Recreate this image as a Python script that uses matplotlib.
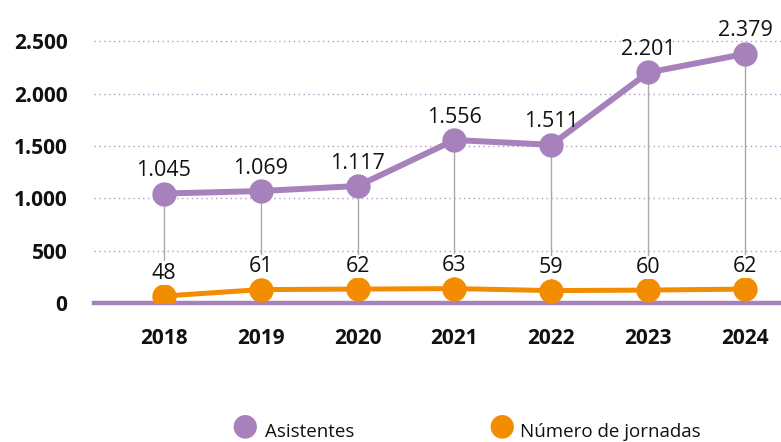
import matplotlib
matplotlib.use("Agg")
import matplotlib.pyplot as plt

years = ["2018", "2019", "2020", "2021", "2022", "2023", "2024"]
asistentes = [1045, 1069, 1117, 1556, 1511, 2201, 2379]
jornadas = [48, 61, 62, 63, 59, 60, 62]
asis_labels = ["1.045", "1.069", "1.117", "1.556", "1.511", "2.201", "2.379"]
jorn_labels = ["48", "61", "62", "63", "59", "60", "62"]
yticks = [0, 500, 1000, 1500, 2000, 2500]
ytick_labels = ["0", "500", "1.000", "1.500", "2.000", "2.500"]

purple = "#A681BB"
orange = "#F28C00"
plt.rcParams['font.family'] = ['Open Sans', 'DejaVu Sans']

W, H = 781, 442
fig = plt.figure(figsize=(W / 100, H / 100), dpi=100)
left = 94 / W
right = 781 / W
bottom = 1 - 303 / H
top = 1 - 15 / H
ax = fig.add_axes([left, bottom, right - left, top - bottom])
x = list(range(len(years)))

ax.set_xlim(-0.72, 6.37)
ax.set_ylim(0, 2750)

for s in ["top", "right", "left"]:
    ax.spines[s].set_visible(False)
ax.spines["bottom"].set_color(purple)
ax.spines["bottom"].set_linewidth(3.2)
ax.spines["bottom"].set_zorder(1)

for t in yticks[1:]:
    ax.axhline(t, color=purple, lw=1.0, ls=(0, (1, 2.5)), alpha=0.8, zorder=0)

ax.set_yticks(yticks)
ax.set_yticklabels(ytick_labels, fontsize=15, fontweight="bold", color="#111111")
ax.tick_params(axis="y", length=0, pad=19)
ax.set_xticks(x)
ax.set_xticklabels(years, fontsize=15, fontweight="bold", color="#111111")
ax.tick_params(axis="x", length=0, pad=18)

# drop lines
ax.vlines(x, 0, asistentes, color="#aaaaaa", lw=1.0, zorder=1)

ax.plot(x, asistentes, color=purple, lw=4.3, marker="o", markersize=16.5,
        zorder=4, solid_capstyle="round")
for xi, v, lab in zip(x, asistentes, asis_labels):
    ax.annotate(lab, (xi, v), xytext=(0, 9), textcoords="offset points",
                ha="center", va="bottom", fontsize=15.5, color="#111111", zorder=6)

ax2 = ax.twinx()
ax2.set_position(ax.get_position())
ax2.set_ylim(34, 34 + 580)
ax2.axis("off")
ax2.plot(x, jornadas, color=orange, lw=3.6, marker="o", markersize=16.5,
         zorder=4, solid_capstyle="round")
for xi, v, lab in zip(x, jornadas, jorn_labels):
    ax2.annotate(lab, (xi, v), xytext=(0, 9), textcoords="offset points",
                 ha="center", va="bottom", fontsize=15.5, color="#111111", zorder=6,
                 bbox=dict(boxstyle="square,pad=0.05", fc="white", ec="none"))

# legend
fig.text(245 / W, 1 - 426 / H, "\u25CF", color=purple, fontsize=22, ha="center", va="center",
         family="DejaVu Sans")
fig.text(265 / W, 1 - 432 / H, "Asistentes", fontsize=13.5, ha="left", va="center", color="#111111")
fig.text(502 / W, 1 - 426 / H, "\u25CF", color=orange, fontsize=22, ha="center", va="center",
         family="DejaVu Sans")
fig.text(520 / W, 1 - 432 / H, "Número de jornadas", fontsize=13.5, ha="left", va="center", color="#111111")

fig.savefig("out.png", dpi=100)
